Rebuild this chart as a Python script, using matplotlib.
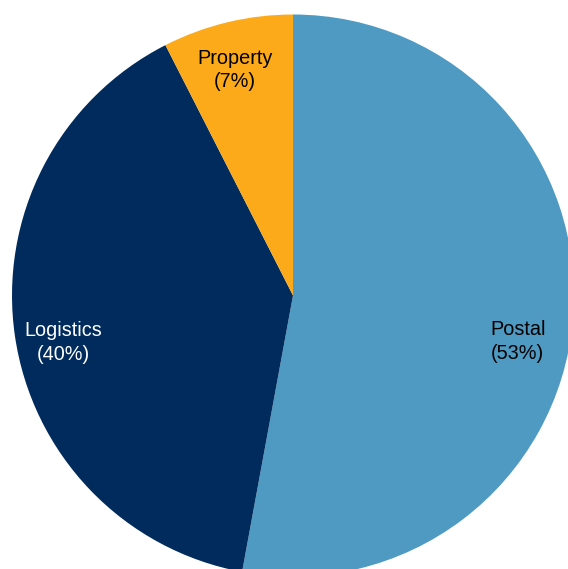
import numpy as np
import matplotlib
matplotlib.use('Agg')
import matplotlib.pyplot as plt

labels = ['Postal', 'Logistics', 'Property']
shares = [52.9, 39.6, 7.5]
pct_text = ['53%', '40%', '7%']
colors = ['#4F9AC2', '#002B5C', '#FCAA1A']
text_colors = ['black', 'white', 'black']

W, H = 568, 569
cx, cy, R = 293, 295.5, 281  # pie centre and radius in pixels

fig = plt.figure(figsize=(W / 100, H / 100), dpi=100, facecolor='white')
ax = fig.add_axes([0, 0, 1, 1])
ax.pie(shares, colors=colors, startangle=90, counterclock=False,
       radius=1, wedgeprops=dict(linewidth=0))
ax.set_xlim(-cx / R, (W - cx) / R)
ax.set_ylim(-(H - cy) / R, cy / R)
ax.set_aspect('equal')
ax.axis('off')

# label placement, roughly where the original tool put them
# (angle nudge in degrees, distance from centre)
nudge = {'Postal': (-6.4, 0.817), 'Logistics': (3.3, 0.834), 'Property': (0.9, 0.829)}
start = 90.0
for lab, s, pt, tc in zip(labels, shares, pct_text, text_colors):
    mid = start - s / sum(shares) * 360 / 2
    start -= s / sum(shares) * 360
    da, r = nudge[lab]
    mid += da
    x = r * np.cos(np.radians(mid))
    y = r * np.sin(np.radians(mid))
    ax.text(x, y, '{}\n({})'.format(lab, pt), ha='center', va='center',
            multialignment='center', color=tc, fontsize=14.3,
            family='Liberation Sans', linespacing=1.3)

fig.savefig('out.png', dpi=100, facecolor='white')
